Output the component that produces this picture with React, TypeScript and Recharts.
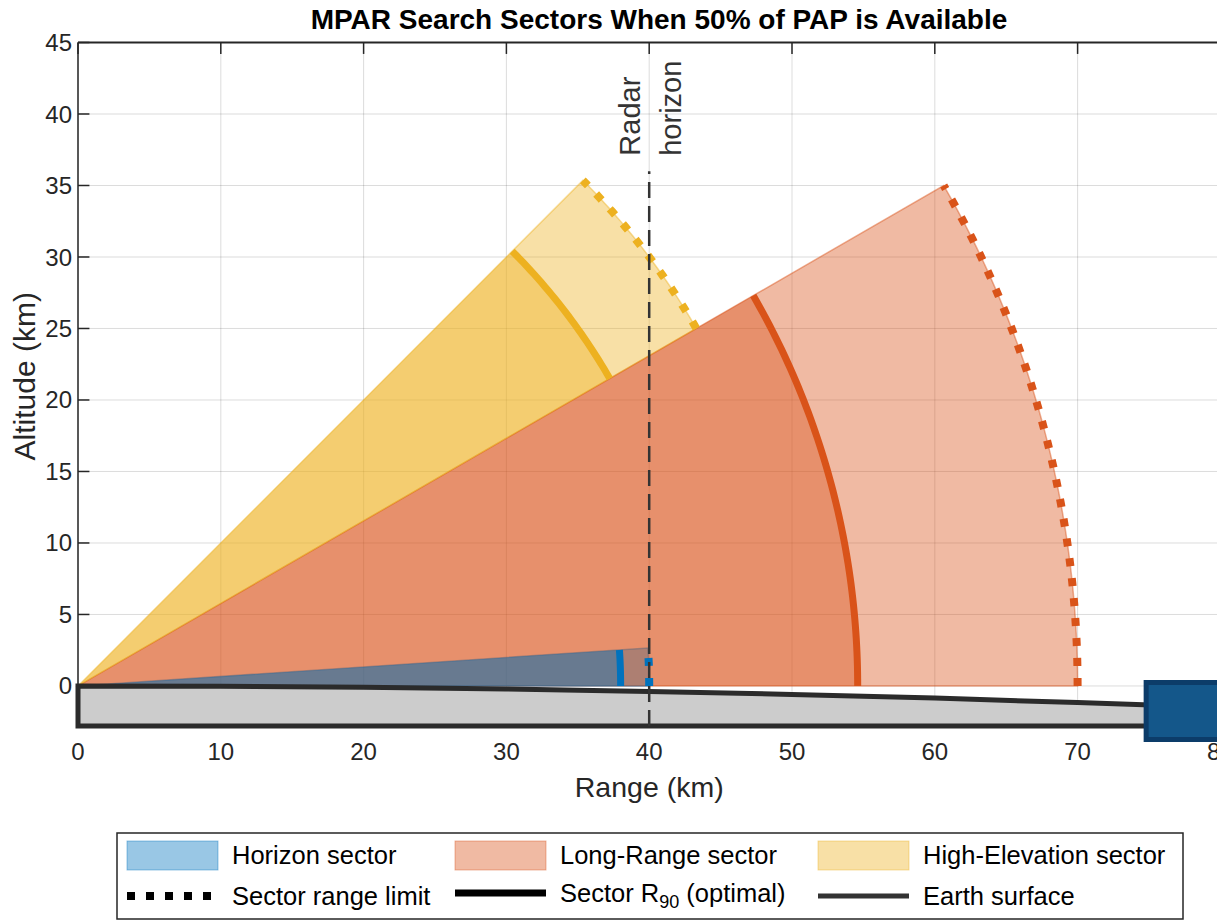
import React from "react";
import {
  ComposedChart,
  Scatter,
  XAxis,
  YAxis,
  CartesianGrid,
  ReferenceLine,
  ReferenceArea,
} from "recharts";

const FONT = "'Liberation Sans', Arial, Helvetica, sans-serif";
const AXIS = "#262626";

// search sectors: elevation span (deg), optimal range R90 and range limit (km)
const SECTOR_NAMES = ["Horizon sector", "Long-Range sector", "High-Elevation sector"];
const SECTOR_COLORS = ["#0072BD", "#D95319", "#EDB120"];
const ELEV_MIN = [0, 0, 30];
const ELEV_MAX = [3.8, 30, 45];
const R90_KM = [38, 54.6, 43];
const RMAX_KM = [40, 70, 50];
const DRAW_ORDER = [1, 2, 0];

// earth surface altitude below the radar tangent plane
const EARTH_RANGE = [0, 10, 20, 30, 40, 50, 60, 70, 80];
const EARTH_ALT = [0, -0.02, -0.09, -0.21, -0.38, -0.59, -0.85, -1.16, -1.5];

// radar horizon marker
const HORIZON_RANGE = 40;
const HORIZON_TOP = 36;

// radar box sitting at the far end of the ground
const BOX_X = [74.8, 84];
const BOX_Y = [-3.74, 0.25];

const X_DOMAIN = [0, 80];
const Y_DOMAIN = [-2.8, 45];
const X_TICKS = [0, 10, 20, 30, 40, 50, 60, 70, 80];
const Y_TICKS = [0, 5, 10, 15, 20, 25, 30, 35, 40, 45];

type Pt = { x: number; y: number; label?: string };

const arcPoints = (r: number, a0: number, a1: number): Pt[] => {
  const n = Math.max(2, Math.ceil(Math.abs(a1 - a0) / 0.5));
  const pts: Pt[] = [];
  for (let i = 0; i <= n; i++) {
    const a = ((a0 + ((a1 - a0) * i) / n) * Math.PI) / 180;
    pts.push({ x: r * Math.cos(a), y: r * Math.sin(a) });
  }
  return pts;
};

const wedgePoints = (r: number, a0: number, a1: number): Pt[] => [
  { x: 0, y: 0 },
  ...arcPoints(r, a0, a1),
];

const earthSurface: Pt[] = EARTH_RANGE.map((x, i) => ({ x, y: EARTH_ALT[i] }));
const earthPatch: Pt[] = [
  ...earthSurface,
  { x: EARTH_RANGE[EARTH_RANGE.length - 1], y: Y_DOMAIN[0] },
  { x: EARTH_RANGE[0], y: Y_DOMAIN[0] },
];
const horizonLine: Pt[] = [
  { x: HORIZON_RANGE, y: Y_DOMAIN[0] },
  { x: HORIZON_RANGE, y: HORIZON_TOP, label: "Radar horizon" },
];

const noDot = () => <g />;

const horizonText = (props: any) => {
  const { cx, cy, payload } = props;
  if (!payload || !payload.label) return <g />;
  const [a, b] = payload.label.split(" ");
  const style = { fontFamily: FONT, fontSize: 29, fill: "#333" };
  return (
    <g>
      <text transform={`translate(${cx - 9},${cy - 55}) rotate(-90)`} textAnchor="middle" style={style}>
        {a}
      </text>
      <text transform={`translate(${cx + 32},${cy - 63}) rotate(-90)`} textAnchor="middle" style={style}>
        {b}
      </text>
    </g>
  );
};

function SectorLegend() {
  const colX = [10, 338, 701];
  const textStyle = { fontFamily: FONT, fontSize: 25.5, fill: "#000" };
  return (
    <svg
      width={1068}
      height={88}
      style={{ position: "absolute", left: 116, top: 832 }}
    >
      <rect x={1} y={1} width={1066} height={86} fill="#fff" stroke={AXIS} strokeWidth={1.5} />
      {SECTOR_NAMES.map((name, i) => (
        <g key={name}>
          <rect
            x={colX[i] + 1}
            y={9}
            width={91}
            height={29}
            fill={SECTOR_COLORS[i]}
            fillOpacity={0.4}
            stroke={SECTOR_COLORS[i]}
            strokeOpacity={0.4}
          />
          <text x={colX[i] + 106} y={32} style={textStyle}>
            {name}
          </text>
        </g>
      ))}
      <line x1={colX[0] + 1} x2={colX[0] + 92} y1={64} y2={64} stroke="#000" strokeWidth={8} strokeDasharray="8 11" />
      <text x={colX[0] + 106} y={73} style={textStyle}>Sector range limit</text>
      <line x1={colX[1] + 1} x2={colX[1] + 92} y1={61} y2={61} stroke="#000" strokeWidth={7} />
      <text x={colX[1] + 106} y={70} style={textStyle}>
        Sector R<tspan dy={6} fontSize={18}>90</tspan>
        <tspan dy={-6}> (optimal)</tspan>
      </text>
      <line x1={colX[2] + 1} x2={colX[2] + 92} y1={64} y2={64} stroke="#333" strokeWidth={5} />
      <text x={colX[2] + 106} y={73} style={textStyle}>Earth surface</text>
    </svg>
  );
}

export default function App() {
  const tickStyle = { fontFamily: FONT, fontSize: 24, fill: AXIS };
  return (
    <div
      style={{
        position: "fixed",
        left: 0,
        top: 0,
        width: 1217,
        height: 922,
        overflow: "hidden",
        background: "#fff",
        fontFamily: FONT,
      }}
    >
      <div
        style={{
          position: "absolute",
          left: 0,
          top: 4,
          width: 1318,
          textAlign: "center",
          fontSize: 28,
          fontWeight: "bold",
          lineHeight: "31px",
          color: "#000",
        }}
      >
        MPAR Search Sectors When 50% of PAP is Available
      </div>
      <div style={{ position: "absolute", left: 0, top: 0 }}>
        <ComposedChart
          width={1260}
          height={922}
          margin={{ top: 42.5, right: 39.6, bottom: 146, left: 0 }}
        >
          <CartesianGrid stroke={AXIS} strokeOpacity={0.16} />
          <XAxis
            type="number"
            dataKey="x"
            domain={X_DOMAIN}
            ticks={X_TICKS}
            height={50}
            tickSize={0}
            tickLine={false}
            tickMargin={17}
            tick={tickStyle}
            axisLine={{ stroke: AXIS, strokeWidth: 1.5 }}
            label={{
              value: "Range (km)",
              position: "bottom",
              offset: 1,
              style: { fontFamily: FONT, fontSize: 28.5, fill: AXIS },
            }}
          />
          <YAxis
            type="number"
            dataKey="y"
            domain={Y_DOMAIN}
            ticks={Y_TICKS}
            width={78}
            tickSize={0}
            tickLine={false}
            tickMargin={6}
            tick={tickStyle}
            axisLine={{ stroke: AXIS, strokeWidth: 1.5 }}
            label={{
              value: "Altitude (km)",
              content: (p: any) => {
                const vb = p.viewBox;
                const cy = vb.y + vb.height / 2 - 8;
                return (
                  <text
                    transform={`translate(35,${cy}) rotate(-90)`}
                    textAnchor="middle"
                    style={{ fontFamily: FONT, fontSize: 30, fill: AXIS }}
                  >
                    Altitude (km)
                  </text>
                );
              },
            }}
          />

          {/* sector fills: full coverage, then the R90 part on top */}
          {DRAW_ORDER.map((i) => (
            <Scatter
              key={"full" + i}
              data={wedgePoints(RMAX_KM[i], ELEV_MIN[i], ELEV_MAX[i])}
              line={{
                stroke: SECTOR_COLORS[i],
                strokeOpacity: 0.45,
                strokeWidth: 1.5,
                fill: SECTOR_COLORS[i],
                fillOpacity: 0.4,
              }}
              lineJointType="linearClosed"
              shape={noDot}
              isAnimationActive={false}
            />
          ))}
          {DRAW_ORDER.map((i) => (
            <Scatter
              key={"r90fill" + i}
              data={wedgePoints(R90_KM[i], ELEV_MIN[i], ELEV_MAX[i])}
              line={{
                stroke: "none",
                fill: SECTOR_COLORS[i],
                fillOpacity: 0.4,
              }}
              lineJointType="linearClosed"
              shape={noDot}
              isAnimationActive={false}
            />
          ))}

          {/* R90 arcs and dotted range limits */}
          {DRAW_ORDER.map((i) => (
            <Scatter
              key={"r90" + i}
              data={arcPoints(R90_KM[i], ELEV_MIN[i], ELEV_MAX[i])}
              line={{ stroke: SECTOR_COLORS[i], strokeWidth: 7, fill: "none" }}
              shape={noDot}
              isAnimationActive={false}
            />
          ))}
          {DRAW_ORDER.map((i) => (
            <Scatter
              key={"rmax" + i}
              data={arcPoints(RMAX_KM[i], ELEV_MIN[i], ELEV_MAX[i])}
              line={{
                stroke: SECTOR_COLORS[i],
                strokeWidth: 8,
                strokeDasharray: "8 12",
                fill: "none",
              }}
              shape={noDot}
              isAnimationActive={false}
            />
          ))}

          {/* ground */}
          <Scatter
            data={earthPatch}
            line={{ stroke: "#2b2b2b", strokeWidth: 5, fill: "#cccccc" }}
            lineJointType="linearClosed"
            shape={noDot}
            isAnimationActive={false}
          />

          {/* radar horizon */}
          <Scatter
            data={horizonLine}
            line={{ stroke: "#333", strokeWidth: 2.5, strokeDasharray: "16 8", fill: "none" }}
            shape={horizonText}
            isAnimationActive={false}
          />

          {/* axes box and inward ticks */}
          <ReferenceLine y={45} stroke={AXIS} strokeWidth={2} />
          {Y_TICKS.map((t) => (
            <ReferenceLine
              key={"yt" + t}
              segment={[{ x: 0, y: t }, { x: 0.8, y: t }]}
              stroke={AXIS}
              strokeWidth={1.5}
            />
          ))}
          {X_TICKS.map((t) => (
            <ReferenceLine
              key={"xt" + t}
              segment={[{ x: t, y: 45 }, { x: t, y: 44.2 }]}
              stroke={AXIS}
              strokeWidth={1.5}
            />
          ))}

          <ReferenceArea
            x1={BOX_X[0]}
            x2={BOX_X[1]}
            y1={BOX_Y[0]}
            y2={BOX_Y[1]}
            ifOverflow="visible"
            fill="#14578a"
            fillOpacity={1}
            stroke="#0c3c69"
            strokeWidth={5}
            {...({ zIndex: 2500 } as any)}
          />
        </ComposedChart>
      </div>
      <SectorLegend />
    </div>
  );
}
